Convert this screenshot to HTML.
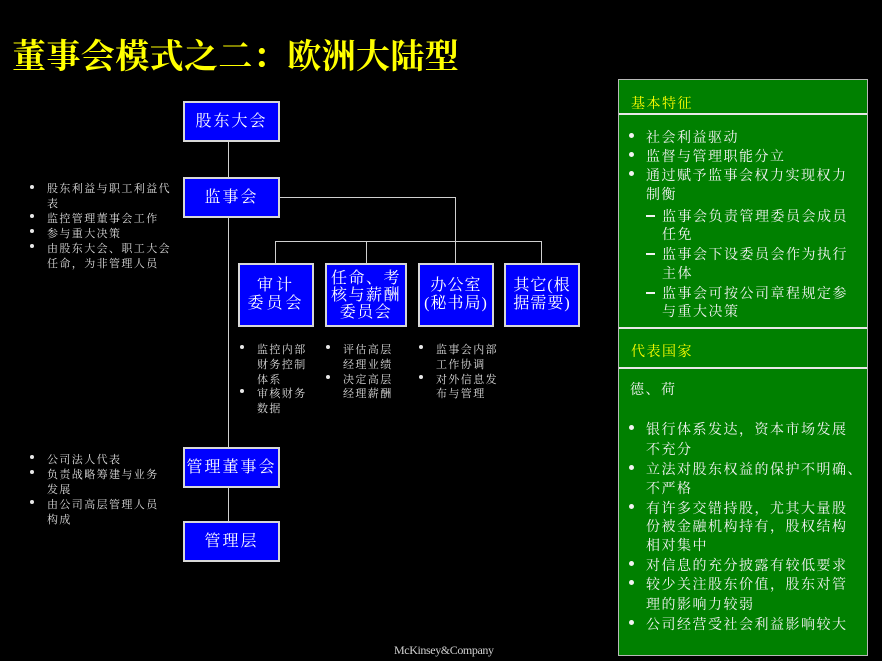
<!DOCTYPE html>
<html><head><meta charset="utf-8">
<style>
html,body{margin:0;padding:0;background:#000;}
body{width:882px;height:661px;position:relative;overflow:hidden;font-family:"Liberation Serif","Noto Serif CJK SC",serif;}
.a{position:absolute;white-space:nowrap;}
.title{left:12px;top:39px;font-size:34px;line-height:38px;color:#ffff00;font-weight:bold;letter-spacing:0.4px;font-family:"Liberation Serif","Noto Serif CJK SC",serif;}
.box{position:absolute;box-sizing:border-box;background:#0000ff;border:2px solid #d8d8d8;color:#fff;display:flex;align-items:center;justify-content:center;text-align:center;font-size:16px;letter-spacing:2px;line-height:17px;}
.h{position:absolute;height:1px;background:#d0d0d0;}
.v{position:absolute;width:1px;background:#d0d0d0;}
.s{position:absolute;white-space:nowrap;font-size:11px;letter-spacing:1.4px;line-height:15px;height:15px;color:#dcdcdc;transform:translateY(2px);}
.d{position:absolute;width:4px;height:4px;border-radius:50%;background:#e8e8e8;}
.p{position:absolute;white-space:nowrap;font-size:14px;letter-spacing:1.5px;line-height:20px;height:20px;color:#f2f2f2;transform:translateY(3px);}
.y{color:#ffff00;}
.pd{position:absolute;width:5px;height:5px;border-radius:50%;background:#f2f2f2;}
.dash{position:absolute;width:9px;height:2px;background:#f2f2f2;}
.panel{position:absolute;left:618px;top:79px;width:250px;height:577px;box-sizing:border-box;background:#008000;border:1px solid #b8b8b8;}
.div{position:absolute;left:619px;width:248px;height:2px;background:#e8e8e8;}
</style></head><body>

<div class="a title">董事会模式之二：欧洲大陆型</div>

<!-- connectors -->
<div class="v" style="left:228px;top:142px;height:35px;"></div>
<div class="v" style="left:228px;top:218px;height:229px;"></div>
<div class="v" style="left:228px;top:488px;height:33px;"></div>
<div class="h" style="left:280px;top:197px;width:176px;"></div>
<div class="v" style="left:455px;top:197px;height:66px;"></div>
<div class="h" style="left:275px;top:241px;width:267px;"></div>
<div class="v" style="left:275px;top:241px;height:22px;"></div>
<div class="v" style="left:366px;top:241px;height:22px;"></div>
<div class="v" style="left:541px;top:241px;height:22px;"></div>

<!-- boxes -->
<div class="box" style="left:183px;top:101px;width:97px;height:41px;">股东大会</div>
<div class="box" style="left:183px;top:177px;width:97px;height:41px;">监事会</div>
<div class="box" style="left:238px;top:263px;width:76px;height:64px;line-height:18px;letter-spacing:3px;">审计<br>委员会</div>
<div class="box" style="left:325px;top:263px;width:82px;height:64px;letter-spacing:1.5px;">任命、考<br>核与薪酬<br>委员会</div>
<div class="box" style="left:418px;top:263px;width:76px;height:64px;letter-spacing:1px;line-height:18px;">办公室<br>(秘书局)</div>
<div class="box" style="left:504px;top:263px;width:76px;height:64px;letter-spacing:1px;line-height:18px;">其它(根<br>据需要)</div>
<div class="box" style="left:183px;top:447px;width:97px;height:41px;">管理董事会</div>
<div class="box" style="left:183px;top:521px;width:97px;height:41px;">管理层</div>

<!-- left bullets top -->
<div class="d" style="left:30px;top:185px;"></div>
<div class="s" style="left:47px;top:180px;">股东利益与职工利益代</div>
<div class="s" style="left:47px;top:195px;">表</div>
<div class="d" style="left:30px;top:214px;"></div>
<div class="s" style="left:47px;top:210px;">监控管理董事会工作</div>
<div class="d" style="left:30px;top:229px;"></div>
<div class="s" style="left:47px;top:225px;">参与重大决策</div>
<div class="d" style="left:30px;top:244px;"></div>
<div class="s" style="left:47px;top:240px;">由股东大会、职工大会</div>
<div class="s" style="left:47px;top:255px;">任命，为非管理人员</div>

<!-- left bullets bottom -->
<div class="d" style="left:30px;top:455px;"></div>
<div class="s" style="left:47px;top:451px;">公司法人代表</div>
<div class="d" style="left:30px;top:470px;"></div>
<div class="s" style="left:47px;top:466px;">负责战略筹建与业务</div>
<div class="s" style="left:47px;top:481px;">发展</div>
<div class="d" style="left:30px;top:500px;"></div>
<div class="s" style="left:47px;top:496px;">由公司高层管理人员</div>
<div class="s" style="left:47px;top:511px;">构成</div>

<!-- row bullets -->
<div class="d" style="left:240px;top:345px;"></div>
<div class="s" style="left:257px;top:341px;">监控内部</div>
<div class="s" style="left:257px;top:356px;">财务控制</div>
<div class="s" style="left:257px;top:371px;">体系</div>
<div class="d" style="left:240px;top:389px;"></div>
<div class="s" style="left:257px;top:385px;">审核财务</div>
<div class="s" style="left:257px;top:400px;">数据</div>

<div class="d" style="left:326px;top:345px;"></div>
<div class="s" style="left:343px;top:341px;">评估高层</div>
<div class="s" style="left:343px;top:356px;">经理业绩</div>
<div class="d" style="left:326px;top:375px;"></div>
<div class="s" style="left:343px;top:371px;">决定高层</div>
<div class="s" style="left:343px;top:385px;">经理薪酬</div>

<div class="d" style="left:419px;top:345px;"></div>
<div class="s" style="left:436px;top:341px;">监事会内部</div>
<div class="s" style="left:436px;top:356px;">工作协调</div>
<div class="d" style="left:419px;top:375px;"></div>
<div class="s" style="left:436px;top:371px;">对外信息发</div>
<div class="s" style="left:436px;top:385px;">布与管理</div>

<!-- right panel -->
<div class="panel"></div>
<div class="div" style="top:113px;"></div>
<div class="div" style="top:327px;"></div>
<div class="div" style="top:367px;"></div>

<div class="p y" style="left:631px;top:92px;">基本特征</div>

<div class="pd" style="left:629px;top:133px;"></div>
<div class="p" style="left:646px;top:126px;">社会利益驱动</div>
<div class="pd" style="left:629px;top:152px;"></div>
<div class="p" style="left:646px;top:145px;">监督与管理职能分立</div>
<div class="pd" style="left:629px;top:171px;"></div>
<div class="p" style="left:646px;top:164px;">通过赋予监事会权力实现权力</div>
<div class="p" style="left:646px;top:183px;">制衡</div>
<div class="dash" style="left:646px;top:215px;"></div>
<div class="p" style="left:662px;top:205px;">监事会负责管理委员会成员</div>
<div class="p" style="left:662px;top:223px;">任免</div>
<div class="dash" style="left:646px;top:253px;"></div>
<div class="p" style="left:662px;top:243px;">监事会下设委员会作为执行</div>
<div class="p" style="left:662px;top:262px;">主体</div>
<div class="dash" style="left:646px;top:292px;"></div>
<div class="p" style="left:662px;top:282px;">监事会可按公司章程规定参</div>
<div class="p" style="left:662px;top:300px;">与重大决策</div>

<div class="p y" style="left:631px;top:340px;">代表国家</div>
<div class="p" style="left:630px;top:378px;">德、荷</div>

<div class="pd" style="left:629px;top:425px;"></div>
<div class="p" style="left:646px;top:418px;">银行体系发达，资本市场发展</div>
<div class="p" style="left:646px;top:438px;">不充分</div>
<div class="pd" style="left:629px;top:465px;"></div>
<div class="p" style="left:646px;top:458px;">立法对股东权益的保护不明确、</div>
<div class="p" style="left:646px;top:477px;">不严格</div>
<div class="pd" style="left:629px;top:504px;"></div>
<div class="p" style="left:646px;top:497px;">有许多交错持股，尤其大量股</div>
<div class="p" style="left:646px;top:515px;">份被金融机构持有，股权结构</div>
<div class="p" style="left:646px;top:534px;">相对集中</div>
<div class="pd" style="left:629px;top:561px;"></div>
<div class="p" style="left:646px;top:554px;">对信息的充分披露有较低要求</div>
<div class="pd" style="left:629px;top:580px;"></div>
<div class="p" style="left:646px;top:573px;">较少关注股东价值，股东对管</div>
<div class="p" style="left:646px;top:593px;">理的影响力较弱</div>
<div class="pd" style="left:629px;top:620px;"></div>
<div class="p" style="left:646px;top:613px;">公司经营受社会利益影响较大</div>

<div class="a" style="left:394px;top:642px;font-size:12px;line-height:16px;letter-spacing:-0.4px;color:#d0d0d0;font-family:'Liberation Serif',serif;">McKinsey&amp;Company</div>

</body></html>
